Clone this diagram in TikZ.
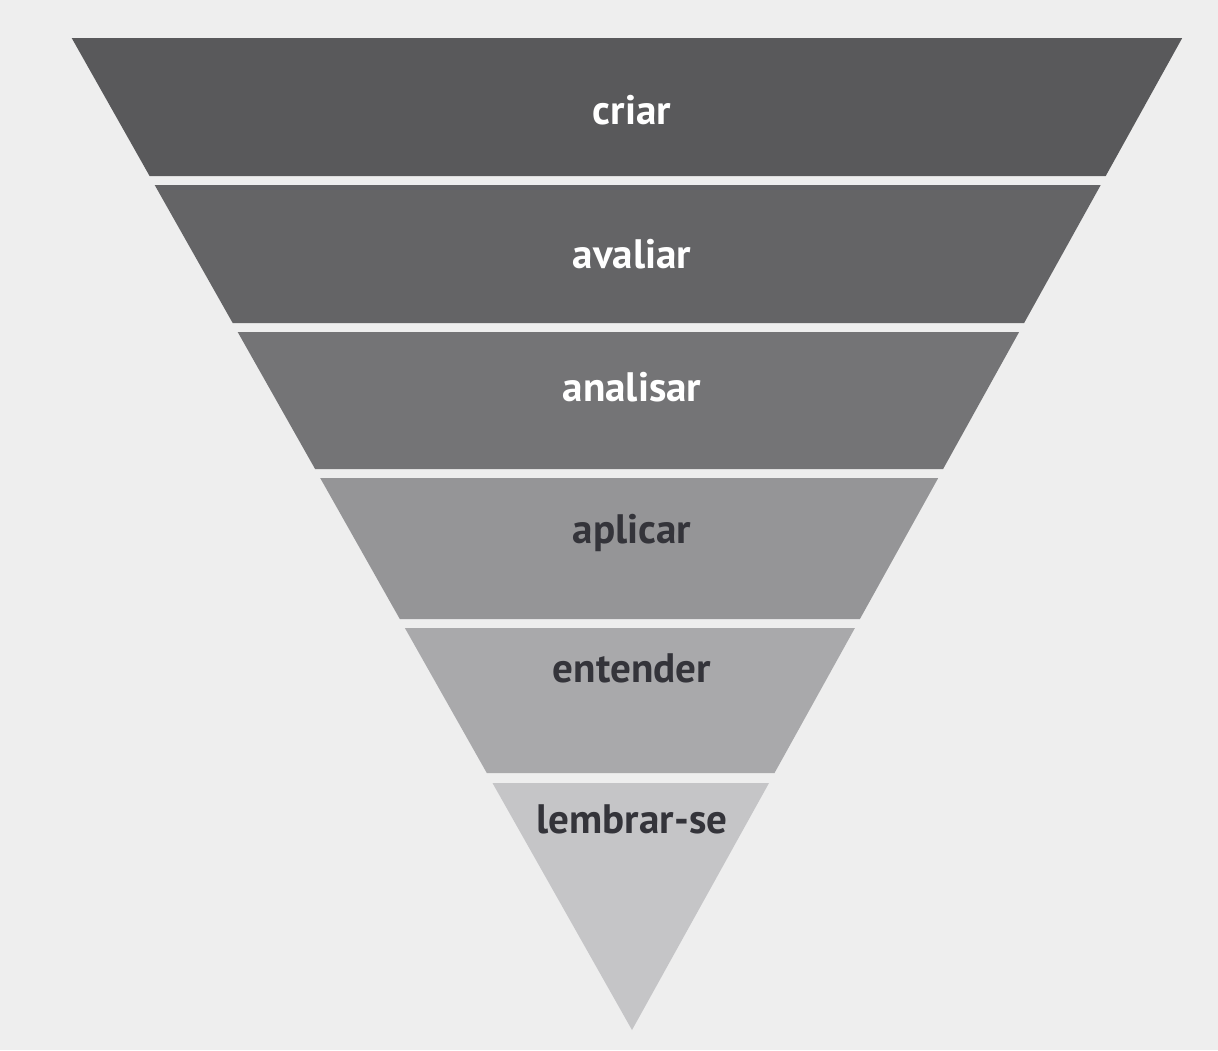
\documentclass[tikz,border=0pt]{standalone}
\usepackage{fontspec}
\setmainfont{PT Sans}
\usepackage{tikz}

\definecolor{paper}{HTML}{EEEEEE}
\definecolor{bandA}{HTML}{59595B}
\definecolor{bandB}{HTML}{646466}
\definecolor{bandC}{HTML}{747476}
\definecolor{bandD}{HTML}{959597}
\definecolor{bandE}{HTML}{A9A9AB}
\definecolor{bandF}{HTML}{C5C5C7}
\definecolor{inkdark}{HTML}{34343A}

\tikzset{
  lighttext/.style={anchor=base, text=white, font=\fontsize{11.7}{14}\selectfont\bfseries},
  darktext/.style={anchor=base, text=inkdark, font=\fontsize{11.7}{14}\selectfont\bfseries}
}

\begin{document}
\begin{tikzpicture}[x=0.01cm,y=-0.01cm]
        \fill[paper] (0,0) rectangle (1218,1050);
        \useasboundingbox (0,0) rectangle (1218,1050);
        % bands, top to bottom
        \fill[bandA] (71.7,38) -- (1182.2,38) -- (1105.7,176) -- (149.6,176) -- cycle;
        \fill[bandB] (154.7,185) -- (1100.7,185) -- (1024.1,323) -- (232.7,323) -- cycle;
        \fill[bandC] (237.7,332) -- (1019.1,332) -- (943.1,469) -- (315.1,469) -- cycle;
        \fill[bandD] (320.2,478) -- (938.2,478) -- (859.9,619) -- (399.8,619) -- cycle;
        \fill[bandE] (404.9,628) -- (854.9,628) -- (774.5,773) -- (486.8,773) -- cycle;
        \fill[bandF] (492.5,783) -- (769.0,783) -- (632,1030) -- cycle;
        % labels
        \node[lighttext] (criar) at (632,124) {criar};
        \node[lighttext] (avaliar) at (632,268) {avaliar};
        \node[lighttext] (analisar) at (632,401) {analisar};
        \node[darktext] (aplicar) at (632,543) {aplicar};
        \node[darktext] (entender) at (632,682) {entender};
        \node[darktext] (lembrar) at (632,833) {lembrar-se};
    \end{tikzpicture}
\end{document}
